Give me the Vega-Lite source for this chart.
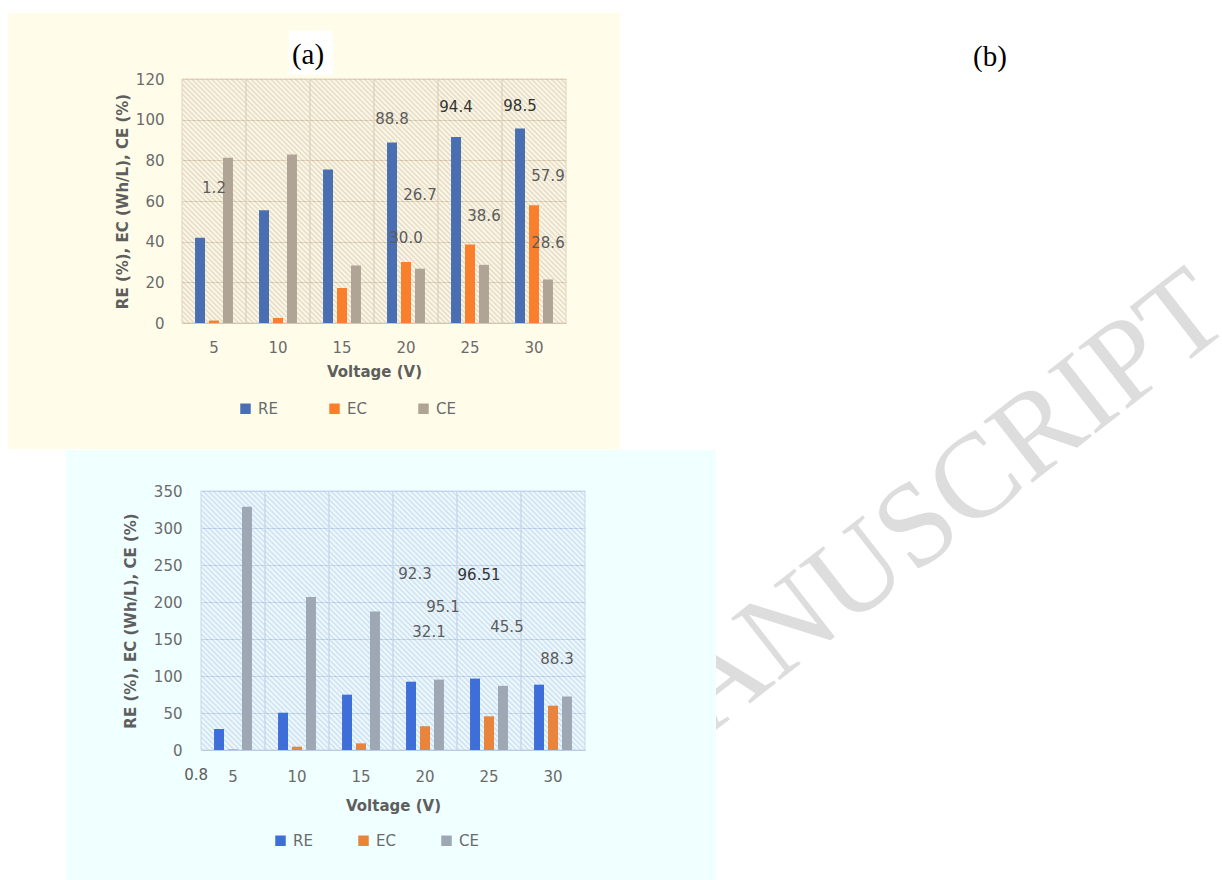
{
  "$schema": "https://vega.github.io/schema/vega-lite/v6.json",
  "background": "#FFFFFF",
  "padding": {"left": 8, "top": 13, "right": 0, "bottom": 0},
  "config": {
    "view": {"stroke": null},
    "concat": {"spacing": 0},
    "axis": {"labelFont": "DejaVu Sans", "labelFontSize": 15, "labelColor": "#6A6A6A", "titleFont": "DejaVu Sans", "titleFontSize": 15, "titleFontWeight": "bold", "titleColor": "#5E5E5E", "ticks": false, "domain": false, "gridOpacity": 1},
    "legend": {"labelFont": "DejaVu Sans", "labelFontSize": 15, "labelColor": "#6A6A6A"}
  },
  "datasets": {
    "a": [
      {"V": 5, "s": "RE", "v": 41.9}, {"V": 10, "s": "RE", "v": 55.4}, {"V": 15, "s": "RE", "v": 75.5},
      {"V": 20, "s": "RE", "v": 88.8}, {"V": 25, "s": "RE", "v": 91.5}, {"V": 30, "s": "RE", "v": 95.7},
      {"V": 5, "s": "EC", "v": 1.2}, {"V": 10, "s": "EC", "v": 2.5}, {"V": 15, "s": "EC", "v": 17.2},
      {"V": 20, "s": "EC", "v": 30.0}, {"V": 25, "s": "EC", "v": 38.6}, {"V": 30, "s": "EC", "v": 57.9},
      {"V": 5, "s": "CE", "v": 81.3}, {"V": 10, "s": "CE", "v": 82.9}, {"V": 15, "s": "CE", "v": 28.3},
      {"V": 20, "s": "CE", "v": 26.7}, {"V": 25, "s": "CE", "v": 28.6}, {"V": 30, "s": "CE", "v": 21.4}
    ],
    "alab": [
      {"V": 5, "near": "EC", "t": "1.2", "at": 66.5},
      {"V": 20, "near": "RE", "t": "88.8", "at": 100.4},
      {"V": 20, "near": "CE", "t": "26.7", "at": 62.8},
      {"V": 20, "near": "EC", "t": "30.0", "at": 41.9},
      {"V": 25, "near": "RE", "t": "94.4", "at": 106.1},
      {"V": 25, "near": "CE", "t": "38.6", "at": 52.7},
      {"V": 30, "near": "RE", "t": "98.5", "at": 106.8},
      {"V": 30, "near": "CE", "t": "57.9", "at": 72.4},
      {"V": 30, "near": "CE", "t": "28.6", "at": 39.2}
    ],
    "b": [
      {"V": 5, "s": "RE", "v": 28.4}, {"V": 10, "s": "RE", "v": 50.4}, {"V": 15, "s": "RE", "v": 74.8},
      {"V": 20, "s": "RE", "v": 92.3}, {"V": 25, "s": "RE", "v": 96.51}, {"V": 30, "s": "RE", "v": 88.3},
      {"V": 5, "s": "EC", "v": 0.8}, {"V": 10, "s": "EC", "v": 4.5}, {"V": 15, "s": "EC", "v": 9.0},
      {"V": 20, "s": "EC", "v": 32.1}, {"V": 25, "s": "EC", "v": 45.5}, {"V": 30, "s": "EC", "v": 59.9},
      {"V": 5, "s": "CE", "v": 328.8}, {"V": 10, "s": "CE", "v": 206.8}, {"V": 15, "s": "CE", "v": 187.0},
      {"V": 20, "s": "CE", "v": 95.1}, {"V": 25, "s": "CE", "v": 86.7}, {"V": 30, "s": "CE", "v": 72.3}
    ],
    "blab": [
      {"V": 20, "near": "RE", "t": "92.3", "at": 237.8},
      {"V": 25, "near": "RE", "t": "96.51", "at": 236.4},
      {"V": 20, "near": "CE", "t": "95.1", "at": 193.8},
      {"V": 20, "near": "EC", "t": "32.1", "at": 159.2},
      {"V": 25, "near": "CE", "t": "45.5", "at": 166.0},
      {"V": 30, "near": "EC", "t": "88.3", "at": 123.3}
    ],
    "bzero": [
      {"V": 5, "near": "RE", "t": "0.8", "at": -33.2}
    ]
  },
  "spacing": 0,
  "resolve": {"scale": {"color": "independent", "xOffset": "independent"}, "legend": {"color": "independent"}},
  "hconcat": [
    {
      "spacing": 1,
      "resolve": {"scale": {"color": "independent", "xOffset": "independent"}, "legend": {"color": "independent"}},
      "vconcat": [
        {
          "width": 612,
          "height": 436,
          "view": {"fill": "#FFFDEA", "stroke": null},
          "layer": [
            {
              "data": {"name": "a"},
              "transform": [{"filter": "datum.s === 'RE'"}],
              "mark": {"type": "bar", "fillOpacity": 0.55, "stroke": "#E0D3BD", "strokeWidth": 1, "strokeOpacity": 1, "width": {"band": 1.528},
                "fill": {"gradient": "linear", "x1": 0, "y1": 1, "x2": 0.3098, "y2": -0.181, "stops": [
                  {"offset": 0, "color": "#FFFDEA"}, {"offset": 0.008, "color": "#CEBCA9"}, {"offset": 0.016, "color": "#FFFDEA"}, {"offset": 0.024, "color": "#CEBCA9"},
                  {"offset": 0.032, "color": "#FFFDEA"}, {"offset": 0.04, "color": "#CEBCA9"}, {"offset": 0.048, "color": "#FFFDEA"}, {"offset": 0.056, "color": "#CEBCA9"},
                  {"offset": 0.064, "color": "#FFFDEA"}, {"offset": 0.072, "color": "#CEBCA9"}, {"offset": 0.08, "color": "#FFFDEA"}, {"offset": 0.088, "color": "#CEBCA9"},
                  {"offset": 0.096, "color": "#FFFDEA"}, {"offset": 0.104, "color": "#CEBCA9"}, {"offset": 0.112, "color": "#FFFDEA"}, {"offset": 0.12, "color": "#CEBCA9"},
                  {"offset": 0.128, "color": "#FFFDEA"}, {"offset": 0.136, "color": "#CEBCA9"}, {"offset": 0.144, "color": "#FFFDEA"}, {"offset": 0.152, "color": "#CEBCA9"},
                  {"offset": 0.16, "color": "#FFFDEA"}, {"offset": 0.168, "color": "#CEBCA9"}, {"offset": 0.176, "color": "#FFFDEA"}, {"offset": 0.184, "color": "#CEBCA9"},
                  {"offset": 0.192, "color": "#FFFDEA"}, {"offset": 0.2, "color": "#CEBCA9"}, {"offset": 0.208, "color": "#FFFDEA"}, {"offset": 0.216, "color": "#CEBCA9"},
                  {"offset": 0.224, "color": "#FFFDEA"}, {"offset": 0.232, "color": "#CEBCA9"}, {"offset": 0.24, "color": "#FFFDEA"}, {"offset": 0.248, "color": "#CEBCA9"},
                  {"offset": 0.256, "color": "#FFFDEA"}, {"offset": 0.264, "color": "#CEBCA9"}, {"offset": 0.272, "color": "#FFFDEA"}, {"offset": 0.28, "color": "#CEBCA9"},
                  {"offset": 0.288, "color": "#FFFDEA"}, {"offset": 0.296, "color": "#CEBCA9"}, {"offset": 0.304, "color": "#FFFDEA"}, {"offset": 0.312, "color": "#CEBCA9"},
                  {"offset": 0.32, "color": "#FFFDEA"}, {"offset": 0.328, "color": "#CEBCA9"}, {"offset": 0.336, "color": "#FFFDEA"}, {"offset": 0.344, "color": "#CEBCA9"},
                  {"offset": 0.352, "color": "#FFFDEA"}, {"offset": 0.36, "color": "#CEBCA9"}, {"offset": 0.368, "color": "#FFFDEA"}, {"offset": 0.376, "color": "#CEBCA9"},
                  {"offset": 0.384, "color": "#FFFDEA"}, {"offset": 0.392, "color": "#CEBCA9"}, {"offset": 0.4, "color": "#FFFDEA"}, {"offset": 0.408, "color": "#CEBCA9"},
                  {"offset": 0.416, "color": "#FFFDEA"}, {"offset": 0.424, "color": "#CEBCA9"}, {"offset": 0.432, "color": "#FFFDEA"}, {"offset": 0.44, "color": "#CEBCA9"},
                  {"offset": 0.448, "color": "#FFFDEA"}, {"offset": 0.456, "color": "#CEBCA9"}, {"offset": 0.464, "color": "#FFFDEA"}, {"offset": 0.472, "color": "#CEBCA9"},
                  {"offset": 0.48, "color": "#FFFDEA"}, {"offset": 0.488, "color": "#CEBCA9"}, {"offset": 0.496, "color": "#FFFDEA"}, {"offset": 0.504, "color": "#CEBCA9"},
                  {"offset": 0.512, "color": "#FFFDEA"}, {"offset": 0.52, "color": "#CEBCA9"}, {"offset": 0.528, "color": "#FFFDEA"}, {"offset": 0.536, "color": "#CEBCA9"},
                  {"offset": 0.544, "color": "#FFFDEA"}, {"offset": 0.552, "color": "#CEBCA9"}, {"offset": 0.56, "color": "#FFFDEA"}, {"offset": 0.568, "color": "#CEBCA9"},
                  {"offset": 0.576, "color": "#FFFDEA"}, {"offset": 0.584, "color": "#CEBCA9"}, {"offset": 0.592, "color": "#FFFDEA"}, {"offset": 0.6, "color": "#CEBCA9"},
                  {"offset": 0.608, "color": "#FFFDEA"}, {"offset": 0.616, "color": "#CEBCA9"}, {"offset": 0.624, "color": "#FFFDEA"}, {"offset": 0.632, "color": "#CEBCA9"},
                  {"offset": 0.64, "color": "#FFFDEA"}, {"offset": 0.648, "color": "#CEBCA9"}, {"offset": 0.656, "color": "#FFFDEA"}, {"offset": 0.664, "color": "#CEBCA9"},
                  {"offset": 0.672, "color": "#FFFDEA"}, {"offset": 0.68, "color": "#CEBCA9"}, {"offset": 0.688, "color": "#FFFDEA"}, {"offset": 0.696, "color": "#CEBCA9"},
                  {"offset": 0.704, "color": "#FFFDEA"}, {"offset": 0.712, "color": "#CEBCA9"}, {"offset": 0.72, "color": "#FFFDEA"}, {"offset": 0.728, "color": "#CEBCA9"},
                  {"offset": 0.736, "color": "#FFFDEA"}, {"offset": 0.744, "color": "#CEBCA9"}, {"offset": 0.752, "color": "#FFFDEA"}, {"offset": 0.76, "color": "#CEBCA9"},
                  {"offset": 0.768, "color": "#FFFDEA"}, {"offset": 0.776, "color": "#CEBCA9"}, {"offset": 0.784, "color": "#FFFDEA"}, {"offset": 0.792, "color": "#CEBCA9"},
                  {"offset": 0.8, "color": "#FFFDEA"}, {"offset": 0.808, "color": "#CEBCA9"}, {"offset": 0.816, "color": "#FFFDEA"}, {"offset": 0.824, "color": "#CEBCA9"},
                  {"offset": 0.832, "color": "#FFFDEA"}, {"offset": 0.84, "color": "#CEBCA9"}, {"offset": 0.848, "color": "#FFFDEA"}, {"offset": 0.856, "color": "#CEBCA9"},
                  {"offset": 0.864, "color": "#FFFDEA"}, {"offset": 0.872, "color": "#CEBCA9"}, {"offset": 0.88, "color": "#FFFDEA"}, {"offset": 0.888, "color": "#CEBCA9"},
                  {"offset": 0.896, "color": "#FFFDEA"}, {"offset": 0.904, "color": "#CEBCA9"}, {"offset": 0.912, "color": "#FFFDEA"}, {"offset": 0.92, "color": "#CEBCA9"},
                  {"offset": 0.928, "color": "#FFFDEA"}, {"offset": 0.936, "color": "#CEBCA9"}, {"offset": 0.944, "color": "#FFFDEA"}, {"offset": 0.952, "color": "#CEBCA9"},
                  {"offset": 0.96, "color": "#FFFDEA"}, {"offset": 0.968, "color": "#CEBCA9"}, {"offset": 0.976, "color": "#FFFDEA"}, {"offset": 0.984, "color": "#CEBCA9"},
                  {"offset": 0.992, "color": "#FFFDEA"}, {"offset": 1, "color": "#CEBCA9"}
                ]}},
              "encoding": {
                "x": {"field": "V", "type": "ordinal",
                      "scale": {"range": [174, 558], "paddingInner": 0.345, "paddingOuter": 0.1725},
                      "axis": {"orient": "bottom", "offset": -126, "labelAngle": 0, "labelPadding": 17, "grid": false, "title": "Voltage (V)", "titlePadding": 9}},
                "y": {"datum": 120, "type": "quantitative",
                      "scale": {"domain": [0, 120], "range": [310, 66], "nice": false, "zero": true},
                      "axis": {"orient": "left", "offset": -174, "values": [0, 20, 40, 60, 80, 100, 120], "labelPadding": 18, "grid": true, "gridColor": "#C9B898", "title": "RE (%), EC (Wh/L), CE (%)", "titlePadding": 5}},
                "y2": {"datum": 0}
              }
            },
            {
              "data": {"name": "a"},
              "mark": {"type": "bar"},
              "encoding": {
                "x": {"field": "V", "type": "ordinal"},
                "xOffset": {"field": "s", "type": "nominal", "scale": {"domain": ["RE", "EC", "CE"], "paddingInner": 0.286, "paddingOuter": 0.143}},
                "y": {"field": "v", "type": "quantitative"},
                "color": {"field": "s", "type": "nominal",
                          "scale": {"domain": ["RE", "EC", "CE"], "range": ["#4A6EB2", "#FA7F2C", "#AFA495"]},
                          "legend": {"orient": "none", "legendX": 230, "legendY": 388, "direction": "horizontal", "title": null, "symbolType": "square", "symbolSize": 110, "symbolStrokeWidth": 0, "labelOffset": 5, "columnPadding": 49}}
              }
            },
            {
              "data": {"name": "alab"},
              "mark": {"type": "text", "font": "DejaVu Sans", "fontSize": 15, "baseline": "middle", "align": "center"},
              "encoding": {
                "x": {"field": "V", "type": "ordinal"},
                "xOffset": {"field": "near", "type": "nominal"},
                "y": {"field": "at", "type": "quantitative"},
                "text": {"field": "t"},
                "color": {"condition": {"test": "datum.t === '94.4' || datum.t === '98.5'", "value": "#333333"}, "value": "#5C5C5C"}
              }
            },
            {
              "data": {"values": [{"lab": "(a)"}]},
              "mark": {"type": "square", "size": 1936, "color": "#FFFFFF", "filled": true, "opacity": 1, "xOffset": 33},
              "encoding": {
                "x": {"datum": 10, "type": "ordinal"},
                "y": {"datum": 133, "type": "quantitative"}
              }
            },
            {
              "data": {"values": [{"lab": "(a)"}]},
              "mark": {"type": "text", "font": "Liberation Serif", "fontSize": 29, "baseline": "middle", "align": "center", "dx": 30, "color": "#000000"},
              "encoding": {
                "x": {"datum": 10, "type": "ordinal"},
                "y": {"datum": 131.8, "type": "quantitative"},
                "text": {"field": "lab"}
              }
            }
          ]
        },
        {
          "spacing": 0,
          "resolve": {"scale": {"color": "independent", "xOffset": "independent"}, "legend": {"color": "independent"}},
          "hconcat": [
            {
              "width": 58,
              "height": 430,
              "data": {"values": [{"e": ""}]},
              "mark": {"type": "text"},
              "encoding": {"text": {"field": "e"}}
            },
            {
              "width": 650,
              "height": 430,
              "view": {"fill": "#F0FFFF", "stroke": null},
              "layer": [
                {
                  "data": {"name": "b"},
                  "transform": [{"filter": "datum.s === 'RE'"}],
                  "mark": {"type": "bar", "fillOpacity": 0.55, "stroke": "#C8D7EB", "strokeWidth": 1, "strokeOpacity": 1, "width": {"band": 1.528},
                    "fill": {"gradient": "linear", "x1": 0, "y1": 1, "x2": 0.2904, "y2": -0.1753, "stops": [
                      {"offset": 0, "color": "#F0FFFF"}, {"offset": 0.008, "color": "#B6C3E4"}, {"offset": 0.016, "color": "#F0FFFF"}, {"offset": 0.024, "color": "#B6C3E4"},
                      {"offset": 0.032, "color": "#F0FFFF"}, {"offset": 0.04, "color": "#B6C3E4"}, {"offset": 0.048, "color": "#F0FFFF"}, {"offset": 0.056, "color": "#B6C3E4"},
                      {"offset": 0.064, "color": "#F0FFFF"}, {"offset": 0.072, "color": "#B6C3E4"}, {"offset": 0.08, "color": "#F0FFFF"}, {"offset": 0.088, "color": "#B6C3E4"},
                      {"offset": 0.096, "color": "#F0FFFF"}, {"offset": 0.104, "color": "#B6C3E4"}, {"offset": 0.112, "color": "#F0FFFF"}, {"offset": 0.12, "color": "#B6C3E4"},
                      {"offset": 0.128, "color": "#F0FFFF"}, {"offset": 0.136, "color": "#B6C3E4"}, {"offset": 0.144, "color": "#F0FFFF"}, {"offset": 0.152, "color": "#B6C3E4"},
                      {"offset": 0.16, "color": "#F0FFFF"}, {"offset": 0.168, "color": "#B6C3E4"}, {"offset": 0.176, "color": "#F0FFFF"}, {"offset": 0.184, "color": "#B6C3E4"},
                      {"offset": 0.192, "color": "#F0FFFF"}, {"offset": 0.2, "color": "#B6C3E4"}, {"offset": 0.208, "color": "#F0FFFF"}, {"offset": 0.216, "color": "#B6C3E4"},
                      {"offset": 0.224, "color": "#F0FFFF"}, {"offset": 0.232, "color": "#B6C3E4"}, {"offset": 0.24, "color": "#F0FFFF"}, {"offset": 0.248, "color": "#B6C3E4"},
                      {"offset": 0.256, "color": "#F0FFFF"}, {"offset": 0.264, "color": "#B6C3E4"}, {"offset": 0.272, "color": "#F0FFFF"}, {"offset": 0.28, "color": "#B6C3E4"},
                      {"offset": 0.288, "color": "#F0FFFF"}, {"offset": 0.296, "color": "#B6C3E4"}, {"offset": 0.304, "color": "#F0FFFF"}, {"offset": 0.312, "color": "#B6C3E4"},
                      {"offset": 0.32, "color": "#F0FFFF"}, {"offset": 0.328, "color": "#B6C3E4"}, {"offset": 0.336, "color": "#F0FFFF"}, {"offset": 0.344, "color": "#B6C3E4"},
                      {"offset": 0.352, "color": "#F0FFFF"}, {"offset": 0.36, "color": "#B6C3E4"}, {"offset": 0.368, "color": "#F0FFFF"}, {"offset": 0.376, "color": "#B6C3E4"},
                      {"offset": 0.384, "color": "#F0FFFF"}, {"offset": 0.392, "color": "#B6C3E4"}, {"offset": 0.4, "color": "#F0FFFF"}, {"offset": 0.408, "color": "#B6C3E4"},
                      {"offset": 0.416, "color": "#F0FFFF"}, {"offset": 0.424, "color": "#B6C3E4"}, {"offset": 0.432, "color": "#F0FFFF"}, {"offset": 0.44, "color": "#B6C3E4"},
                      {"offset": 0.448, "color": "#F0FFFF"}, {"offset": 0.456, "color": "#B6C3E4"}, {"offset": 0.464, "color": "#F0FFFF"}, {"offset": 0.472, "color": "#B6C3E4"},
                      {"offset": 0.48, "color": "#F0FFFF"}, {"offset": 0.488, "color": "#B6C3E4"}, {"offset": 0.496, "color": "#F0FFFF"}, {"offset": 0.504, "color": "#B6C3E4"},
                      {"offset": 0.512, "color": "#F0FFFF"}, {"offset": 0.52, "color": "#B6C3E4"}, {"offset": 0.528, "color": "#F0FFFF"}, {"offset": 0.536, "color": "#B6C3E4"},
                      {"offset": 0.544, "color": "#F0FFFF"}, {"offset": 0.552, "color": "#B6C3E4"}, {"offset": 0.56, "color": "#F0FFFF"}, {"offset": 0.568, "color": "#B6C3E4"},
                      {"offset": 0.576, "color": "#F0FFFF"}, {"offset": 0.584, "color": "#B6C3E4"}, {"offset": 0.592, "color": "#F0FFFF"}, {"offset": 0.6, "color": "#B6C3E4"},
                      {"offset": 0.608, "color": "#F0FFFF"}, {"offset": 0.616, "color": "#B6C3E4"}, {"offset": 0.624, "color": "#F0FFFF"}, {"offset": 0.632, "color": "#B6C3E4"},
                      {"offset": 0.64, "color": "#F0FFFF"}, {"offset": 0.648, "color": "#B6C3E4"}, {"offset": 0.656, "color": "#F0FFFF"}, {"offset": 0.664, "color": "#B6C3E4"},
                      {"offset": 0.672, "color": "#F0FFFF"}, {"offset": 0.68, "color": "#B6C3E4"}, {"offset": 0.688, "color": "#F0FFFF"}, {"offset": 0.696, "color": "#B6C3E4"},
                      {"offset": 0.704, "color": "#F0FFFF"}, {"offset": 0.712, "color": "#B6C3E4"}, {"offset": 0.72, "color": "#F0FFFF"}, {"offset": 0.728, "color": "#B6C3E4"},
                      {"offset": 0.736, "color": "#F0FFFF"}, {"offset": 0.744, "color": "#B6C3E4"}, {"offset": 0.752, "color": "#F0FFFF"}, {"offset": 0.76, "color": "#B6C3E4"},
                      {"offset": 0.768, "color": "#F0FFFF"}, {"offset": 0.776, "color": "#B6C3E4"}, {"offset": 0.784, "color": "#F0FFFF"}, {"offset": 0.792, "color": "#B6C3E4"},
                      {"offset": 0.8, "color": "#F0FFFF"}, {"offset": 0.808, "color": "#B6C3E4"}, {"offset": 0.816, "color": "#F0FFFF"}, {"offset": 0.824, "color": "#B6C3E4"},
                      {"offset": 0.832, "color": "#F0FFFF"}, {"offset": 0.84, "color": "#B6C3E4"}, {"offset": 0.848, "color": "#F0FFFF"}, {"offset": 0.856, "color": "#B6C3E4"},
                      {"offset": 0.864, "color": "#F0FFFF"}, {"offset": 0.872, "color": "#B6C3E4"}, {"offset": 0.88, "color": "#F0FFFF"}, {"offset": 0.888, "color": "#B6C3E4"},
                      {"offset": 0.896, "color": "#F0FFFF"}, {"offset": 0.904, "color": "#B6C3E4"}, {"offset": 0.912, "color": "#F0FFFF"}, {"offset": 0.92, "color": "#B6C3E4"},
                      {"offset": 0.928, "color": "#F0FFFF"}, {"offset": 0.936, "color": "#B6C3E4"}, {"offset": 0.944, "color": "#F0FFFF"}, {"offset": 0.952, "color": "#B6C3E4"},
                      {"offset": 0.96, "color": "#F0FFFF"}, {"offset": 0.968, "color": "#B6C3E4"}, {"offset": 0.976, "color": "#F0FFFF"}, {"offset": 0.984, "color": "#B6C3E4"},
                      {"offset": 0.992, "color": "#F0FFFF"}, {"offset": 1, "color": "#B6C3E4"}
                    ]}},
                  "encoding": {
                    "x": {"field": "V", "type": "ordinal",
                          "scale": {"range": [135, 519], "paddingInner": 0.345, "paddingOuter": 0.1725},
                          "axis": {"orient": "bottom", "offset": -130, "labelAngle": 0, "labelPadding": 19, "grid": false, "title": "Voltage (V)", "titlePadding": 14}},
                    "y": {"datum": 350, "type": "quantitative",
                          "scale": {"domain": [0, 350], "range": [300, 41], "nice": false, "zero": true},
                          "axis": {"orient": "left", "offset": -135, "values": [0, 50, 100, 150, 200, 250, 300, 350], "labelPadding": 19, "grid": true, "gridColor": "#A9BEE0", "title": "RE (%), EC (Wh/L), CE (%)", "titlePadding": 15}},
                    "y2": {"datum": 0}
                  }
                },
                {
                  "data": {"name": "b"},
                  "mark": {"type": "bar"},
                  "encoding": {
                    "x": {"field": "V", "type": "ordinal"},
                    "xOffset": {"field": "s", "type": "nominal", "scale": {"domain": ["RE", "EC", "CE"], "paddingInner": 0.286, "paddingOuter": 0.143}},
                    "y": {"field": "v", "type": "quantitative"},
                    "color": {"field": "s", "type": "nominal",
                              "scale": {"domain": ["RE", "EC", "CE"], "range": ["#3E6FD8", "#E8843C", "#9EA7B4"]},
                              "legend": {"orient": "none", "legendX": 207, "legendY": 383, "direction": "horizontal", "title": null, "symbolType": "square", "symbolSize": 110, "symbolStrokeWidth": 0, "labelOffset": 5, "columnPadding": 43}}
                  }
                },
                {
                  "data": {"name": "blab"},
                  "mark": {"type": "text", "font": "DejaVu Sans", "fontSize": 15, "baseline": "middle", "align": "center", "dx": 4},
                  "encoding": {
                    "x": {"field": "V", "type": "ordinal"},
                    "xOffset": {"field": "near", "type": "nominal"},
                    "y": {"field": "at", "type": "quantitative"},
                    "text": {"field": "t"},
                    "color": {"condition": {"test": "datum.t === '96.51'", "value": "#333333"}, "value": "#5C5C5C"}
                  }
                },
                {
                  "data": {"name": "bzero"},
                  "mark": {"type": "text", "font": "DejaVu Sans", "fontSize": 15, "baseline": "middle", "align": "right", "dx": -11, "color": "#5C5C5C"},
                  "encoding": {
                    "x": {"field": "V", "type": "ordinal"},
                    "xOffset": {"field": "near", "type": "nominal"},
                    "y": {"field": "at", "type": "quantitative"},
                    "text": {"field": "t"}
                  }
                }
              ]
            }
          ]
        }
      ]
    },
    {
      "width": 506,
      "height": 867,
      "data": {"values": [{"w": "ACCEPTED MANUSCRIPT", "lab": "(b)"}]},
      "layer": [
        {
          "mark": {"type": "text", "clip": true, "angle": 322, "align": "right", "baseline": "alphabetic", "font": "Liberation Serif", "fontSize": 120, "color": "#DDDDDD"},
          "encoding": {
            "text": {"field": "w"},
            "x": {"datum": 1.0237, "type": "quantitative", "scale": {"domain": [0, 1], "nice": false, "zero": false}, "axis": null},
            "y": {"datum": 0.36, "type": "quantitative", "scale": {"domain": [0, 1], "nice": false, "zero": false, "reverse": true}, "axis": null}
          }
        },
        {
          "mark": {"type": "text", "align": "center", "baseline": "middle", "font": "Liberation Serif", "fontSize": 29, "color": "#000000"},
          "encoding": {
            "text": {"field": "lab"},
            "x": {"datum": 0.5415, "type": "quantitative", "axis": null},
            "y": {"datum": 0.0507, "type": "quantitative", "axis": null}
          }
        }
      ]
    }
  ]
}
